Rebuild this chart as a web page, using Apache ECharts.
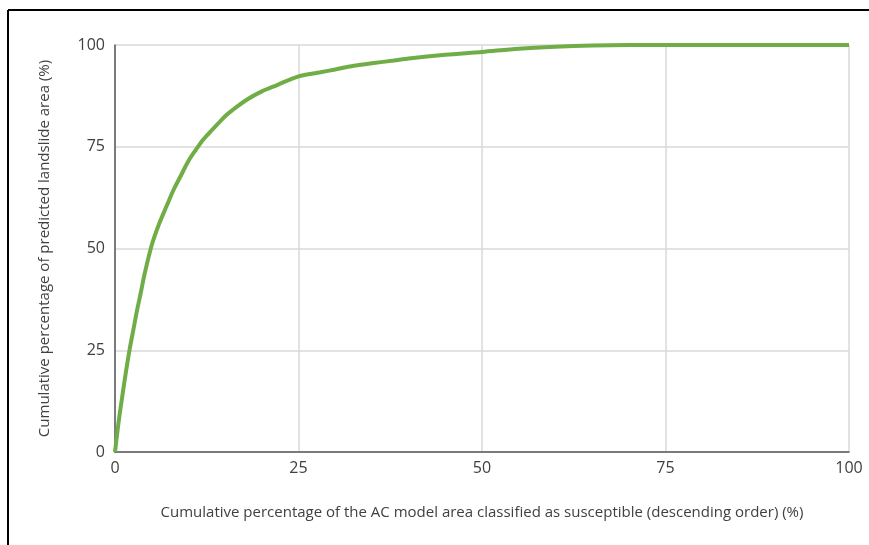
<!DOCTYPE html>
<html>
<head>
<meta charset="utf-8">
<script src="https://cdn.jsdelivr.net/npm/echarts@6/dist/echarts.min.js"></script>
<style>
  html, body { margin: 0; padding: 0; background: #fff; }
  #chart { width: 869px; height: 545px; }
</style>
</head>
<body>
<div id="chart"></div>
<script>
// cumulative % of model area (x) vs cumulative % of predicted landslide area (y)
const areaPct = [0, 0.5, 1, 1.5, 2, 2.5, 3, 3.5, 4, 5, 6, 7, 8, 9, 10, 11, 12, 13, 14, 15, 16, 18, 20, 22, 25, 28, 30, 32, 35, 38, 40, 45, 50, 55, 60, 65, 70, 80, 90, 100];
const landslidePct = [0, 7.5, 13.8, 19.8, 25.3, 30, 34.8, 39, 43.5, 50.8, 56, 60.3, 64.5, 68, 71.5, 74.2, 76.7, 78.7, 80.6, 82.5, 84, 86.6, 88.6, 90.1, 92.3, 93.3, 94, 94.7, 95.5, 96.2, 96.7, 97.6, 98.3, 99.1, 99.6, 99.9, 100, 100, 100, 100];
const xTicks = [0, 25, 50, 75, 100];
const yTicks = [0, 25, 50, 75, 100];

const textColor = '#404040';
const font = '"Open Sans", "Noto Sans", sans-serif';

const chart = echarts.init(document.getElementById('chart'));

chart.setOption({
  backgroundColor: '#fff',
  animation: false,
  grid: { left: 115, right: 20, top: 45, bottom: 93 },
  xAxis: {
    type: 'value',
    min: xTicks[0],
    max: xTicks[xTicks.length - 1],
    interval: 25,
    name: 'Cumulative percentage of the AC model area classified as susceptible (descending order) (%)',
    nameLocation: 'middle',
    nameGap: 53,
    nameTextStyle: { color: textColor, fontSize: 15, fontFamily: font },
    axisLine: { lineStyle: { color: '#595959', width: 1.5 } },
    axisTick: { show: false },
    axisLabel: { color: textColor, fontSize: 16, fontFamily: font, margin: 8 },
    splitLine: { show: true, lineStyle: { color: '#d9d9d9', width: 1.5 } }
  },
  yAxis: {
    type: 'value',
    min: yTicks[0],
    max: yTicks[yTicks.length - 1],
    interval: 25,
    name: 'Cumulative percentage of predicted landslide area (%)',
    nameLocation: 'middle',
    nameGap: 63,
    nameTextStyle: { color: textColor, fontSize: 15, fontFamily: font },
    axisLine: { show: true, lineStyle: { color: '#595959', width: 1.5 } },
    axisTick: { show: false },
    axisLabel: { color: textColor, fontSize: 16, fontFamily: font, margin: 10 },
    splitLine: { show: true, lineStyle: { color: '#d9d9d9', width: 1.5 } }
  },
  graphic: [
    { type: 'line', shape: { x1: 8, y1: 10, x2: 869, y2: 10 }, style: { stroke: '#000', lineWidth: 2 } },
    { type: 'line', shape: { x1: 8, y1: 10, x2: 8, y2: 545 }, style: { stroke: '#000', lineWidth: 2 } }
  ],
  series: [{
    type: 'line',
    data: areaPct.map((x, i) => [x, landslidePct[i]]),
    smooth: 0.3,
    showSymbol: false,
    lineStyle: { color: '#70ad47', width: 4 },
    z: 3
  }]
});
</script>
</body>
</html>
